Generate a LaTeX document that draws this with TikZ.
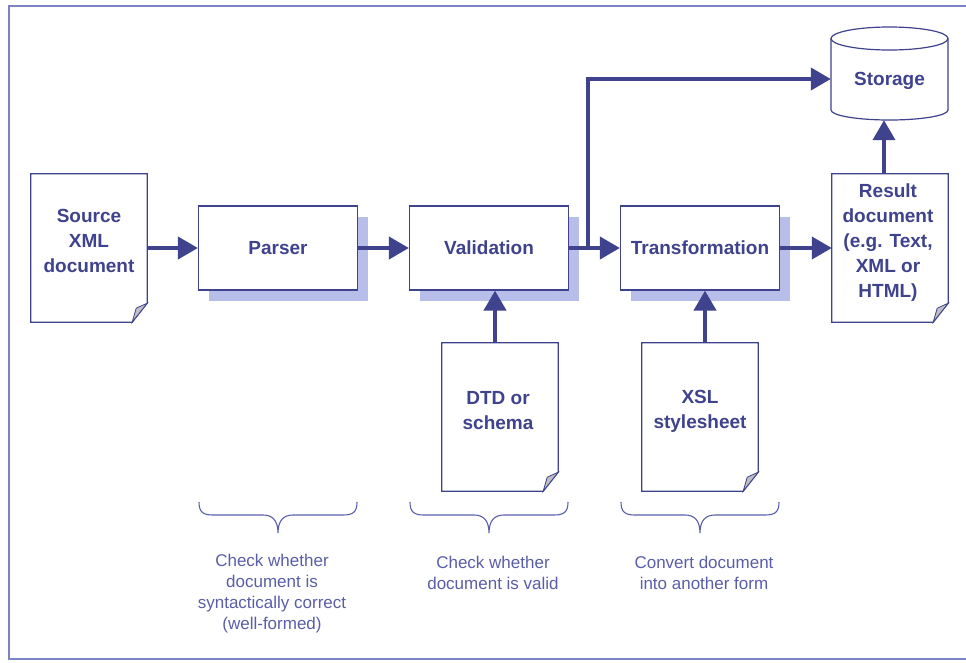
\documentclass[tikz,border=0pt]{standalone}
\usepackage{fontspec}
\setmainfont{Liberation Sans}
\usetikzlibrary{arrows.meta,shadows}
\definecolor{ink}{HTML}{3F428C}
\definecolor{shade}{HTML}{B8BEEA}
\definecolor{framec}{HTML}{7D84C4}
\definecolor{notec}{HTML}{5A5EA8}
\definecolor{foldc}{HTML}{BFBFC4}
\tikzset{
  procbox/.style={draw=ink, line width=1.2pt, fill=white, minimum width=159pt, minimum height=84pt,
    font=\fontsize{19}{25}\selectfont\bfseries, text=ink, align=center,
    drop shadow={shadow xshift=10pt, shadow yshift=-11pt, fill=shade, opacity=1}},
  docbox/.style={minimum width=116pt, minimum height=148pt, inner sep=0pt},
  doctext/.style={font=\fontsize{19}{25}\selectfont\bfseries, text=ink, align=center, inner sep=0pt},
  note/.style={font=\fontsize{17}{21}\selectfont, text=notec, align=center, inner sep=0pt},
  arr/.style={draw=ink, line width=4pt, -{Triangle[length=20pt,width=22pt]}},
  docline/.style={draw=ink, line width=1.2pt},
  bracepic/.pic={\draw[notec, line width=1.1pt] (-79,0) .. controls (-79,10) and (-75,13) .. (-65,13) -- (-15,13) .. controls (-6,13) and (0,18) .. (0,31) .. controls (0,18) and (6,13) .. (15,13) -- (65,13) .. controls (75,13) and (79,10) .. (79,0);}
}
\newcommand\docoutline[1]{%
  \filldraw[docline, fill=white] (#1.north west) -- (#1.north east) -- ([yshift=19pt]#1.south east) -- ([xshift=-15pt]#1.south east) -- (#1.south west) -- cycle;
  \filldraw[docline, line width=0.8pt, fill=foldc] ([yshift=19pt]#1.south east) -- ([xshift=-11pt,yshift=14pt]#1.south east) -- ([xshift=-15pt]#1.south east) -- cycle;
}
\begin{document}
\begin{tikzpicture}[x=1pt, y=-1pt]
\useasboundingbox (0,0) rectangle (966,662);
\fill[white] (0,0) rectangle (966,662);
% frame
\draw[framec, line width=1.6pt] (968,6) -- (9,6) -- (9,659) -- (968,659);

% process boxes
\node[procbox] (parser) at (278,248) {Parser};
\node[procbox] (valid) at (489,248) {Validation};
\node[procbox] (trans) at (700,248) {Transformation};

% documents
\node[docbox] (src) at (89,248) {};
\docoutline{src}
\node[doctext] (srct) at (89,241) {Source\\XML\\document};

\node[docbox] (result) at (890,248) {};
\docoutline{result}
\node[doctext] (resultt) at (888,243) {Result\\document\\(e.g. Text,\\XML or\\HTML)};

\node[docbox] (dtd) at (500,417) {};
\docoutline{dtd}
\node[doctext] (dtdt) at (498,411) {DTD or\\schema};

\node[docbox] (xsl) at (700,417) {};
\docoutline{xsl}
\node[doctext] (xslt) at (700,411) {XSL\\stylesheet};

% storage cylinder
\filldraw[docline, fill=white] (831,38.5) -- (831,110) arc[start angle=180, end angle=360, x radius=58.5pt, y radius=10pt] -- (948,38.5);
\filldraw[docline, fill=white] (889.5,38.5) ellipse[x radius=58.5pt, y radius=11.5pt];
\node[minimum width=117pt, minimum height=82pt, inner sep=0pt] (storage) at (889.5,79) {};
\node[doctext] (storaget) at (889.5,81) {Storage};

% connectors
\coordinate (br) at (588,248);
\draw[arr] (src.east) -- (parser.west);
\draw[arr] (parser.east) -- (valid.west);
\draw[arr] (valid.east) -- (trans.west);
\draw[arr] (br) |- (storage.west);
\draw[arr] (trans.east) -- (result.west);
\draw[arr] ([xshift=-6pt]result.north) -- ([xshift=-5.5pt]storage.south);
\draw[arr] ([xshift=-5pt]dtd.north) -- ([xshift=6pt]valid.south);
\draw[arr] ([xshift=5pt]xsl.north) -- ([xshift=5pt]trans.south);

% braces and notes
\pic at (278,502) {bracepic};
\pic at (489,502) {bracepic};
\pic at (700,502) {bracepic};
\node[note] (n1) at (272,593.5) {Check whether\\document is\\syntactically correct\\(well-formed)};
\node[note] (n2) at (493,572.5) {Check whether\\document is valid};
\node[note] (n3) at (704,572.5) {Convert document\\into another form};
\end{tikzpicture}
\end{document}
